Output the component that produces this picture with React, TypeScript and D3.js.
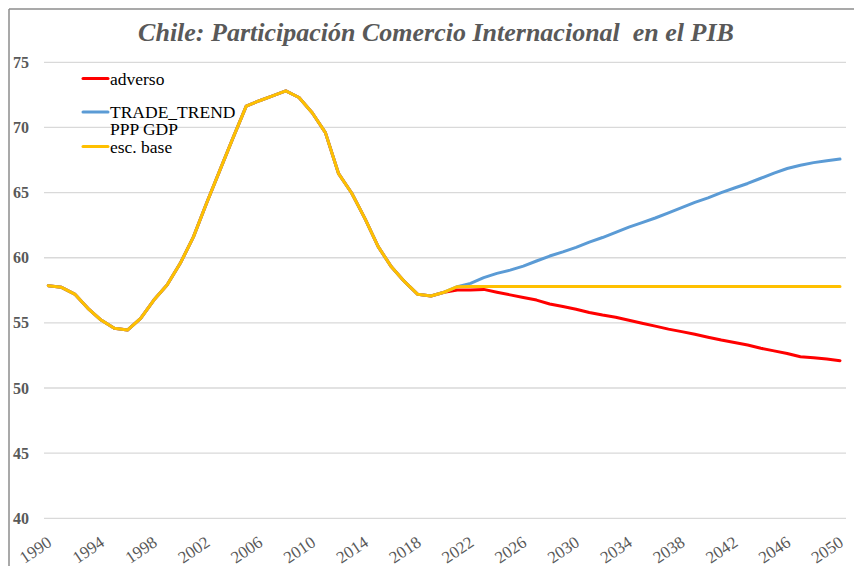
import React from "react";
import * as d3 from "d3";

const years: number[] = d3.range(1990, 2051);

const historical: number[] = [
  57.85, 57.73, 57.21, 56.12, 55.22, 54.58, 54.45, 55.35, 56.75, 57.9,
  59.57, 61.6, 64.2, 66.7, 69.2, 71.64, 72.05, 72.42, 72.8, 72.3,
  71.13, 69.6, 66.45, 64.95, 63.0, 60.85, 59.3, 58.16, 57.19, 57.06,
  57.35,
];

const adversoProj: number[] = [
  57.52, 57.52, 57.57, 57.35, 57.15, 56.95, 56.75, 56.45, 56.25, 56.05,
  55.8, 55.6, 55.43, 55.2, 54.97, 54.75, 54.52, 54.33, 54.12, 53.9,
  53.68, 53.5, 53.3, 53.05, 52.85, 52.65, 52.4, 52.33, 52.22, 52.1,
];

const trendProj: number[] = [
  57.78, 58.03, 58.47, 58.8, 59.05, 59.36, 59.75, 60.13, 60.45, 60.8,
  61.2, 61.55, 61.95, 62.35, 62.7, 63.05, 63.45, 63.85, 64.25, 64.6,
  65.0, 65.35, 65.7, 66.1, 66.5, 66.85, 67.1, 67.3, 67.45, 67.57,
];

const baseProj: number[] = [
  57.78, 57.8, 57.8, 57.8, 57.8, 57.8, 57.8, 57.8, 57.8, 57.8,
  57.8, 57.8, 57.8, 57.8, 57.8, 57.8, 57.8, 57.8, 57.8, 57.8,
  57.8, 57.8, 57.8, 57.8, 57.8, 57.8, 57.8, 57.8, 57.8, 57.8,
];

const seriesNames: string[] = ["adverso", "TRADE_TREND PPP GDP", "esc. base"];
const seriesColors: string[] = ["#FF0000", "#5B9BD5", "#FFC000"];
const yTicks: number[] = [40, 45, 50, 55, 60, 65, 70, 75];
const xTicks: number[] = d3.range(1990, 2051, 4);
const title = "Chile: Participación Comercio Internacional  en el PIB";

export default function App() {
  const W = 854;
  const H = 566;
  const x = d3.scaleLinear().domain([1990, 2050]).range([48.3, 840]);
  const y = d3.scaleLinear().domain([40, 75]).range([518.3, 62.3]);

  const seriesValues = [
    historical.concat(adversoProj),
    historical.concat(trendProj),
    historical.concat(baseProj),
  ];

  const line = d3
    .line<number>()
    .x((_, i) => x(years[i]))
    .y((d) => y(d));

  const legendItems = [
    { name: ["adverso"], cy: 78.5 },
    { name: ["TRADE_TREND", "PPP GDP"], cy: 112 },
    { name: ["esc. base"], cy: 146.5 },
  ];

  return (
    <svg
      width={W}
      height={H}
      style={{ position: "absolute", left: 0, top: 0, background: "#fff" }}
    >
      <rect x={0} y={0} width={W} height={H} fill="#fff" />
      {/* frame */}
      <line x1={9} y1={9} x2={W} y2={9} stroke="#8c8c8c" strokeWidth={1.5} />
      <line x1={9} y1={9} x2={9} y2={H} stroke="#8c8c8c" strokeWidth={1.5} />

      <text
        x={436}
        y={41}
        textAnchor="middle"
        fontFamily="'Liberation Serif', 'Times New Roman', serif"
        fontStyle="italic"
        fontWeight="bold"
        fontSize={26}
        fill="#595959"
        style={{ whiteSpace: "pre" }}
      >
        {title}
      </text>

      {/* gridlines */}
      {yTicks.map((t) => (
        <line
          key={t}
          x1={44}
          x2={846}
          y1={y(t)}
          y2={y(t)}
          stroke="#d9d9d9"
          strokeWidth={1.3}
        />
      ))}

      {/* y labels */}
      {yTicks.map((t) => (
        <text
          key={t}
          x={29}
          y={y(t)}
          dy="0.35em"
          textAnchor="end"
          fontFamily="'Liberation Serif', 'Times New Roman', serif"
          fontWeight="bold"
          fontSize={16}
          fill="#595959"
        >
          {t}
        </text>
      ))}

      {/* x labels */}
      {xTicks.map((t) => (
        <text
          key={t}
          transform={`translate(${x(t) + 4.5},${545}) rotate(-34)`}
          textAnchor="end"
          fontFamily="'Liberation Serif', 'Times New Roman', serif"
          fontSize={17}
          fill="#595959"
        >
          {t}
        </text>
      ))}

      {/* lines */}
      {seriesValues.map((vals, i) => (
        <path
          key={i}
          d={line(vals) || ""}
          fill="none"
          stroke={seriesColors[i]}
          strokeWidth={3}
          strokeLinejoin="round"
          strokeLinecap="round"
        />
      ))}

      {/* legend */}
      {legendItems.map((it, i) => (
        <g key={i}>
          <line
            x1={83}
            x2={108}
            y1={it.cy}
            y2={it.cy}
            stroke={seriesColors[i]}
            strokeWidth={3}
            strokeLinecap="round"
          />
          {it.name.map((n, j) => (
            <text
              key={j}
              x={110}
              y={it.cy + j * 17}
              dy="0.35em"
              fontFamily="'Liberation Serif', 'Times New Roman', serif"
              fontSize={17.5}
              fill="#000"
            >
              {n}
            </text>
          ))}
        </g>
      ))}
    </svg>
  );
}
